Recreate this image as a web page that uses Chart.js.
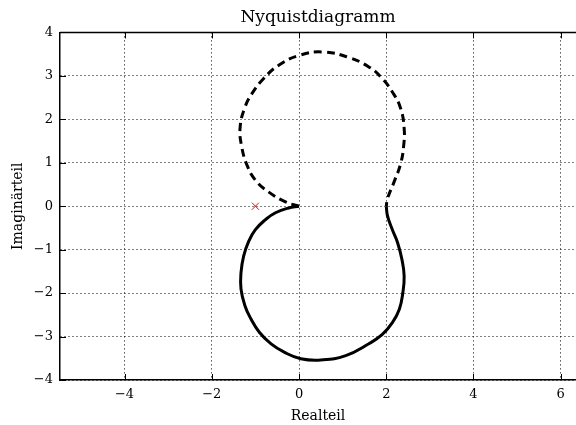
<!DOCTYPE html>
<html>
<head>
<meta charset="utf-8">
<script src="https://cdn.jsdelivr.net/npm/chart.js@4.4.1/dist/chart.umd.min.js"></script>
<style>
  html, body { margin: 0; padding: 0; background: #fff; }
  #wrap { width: 576px; height: 425px; }
</style>
</head>
<body>
<div id="wrap"><canvas id="nyquistChart"></canvas></div>
<script>
// Ortskurve (omega > 0, durchgezogen)
var realSolid = [0, -0.24, -0.54, -0.77, -1.0, -1.15, -1.27, -1.33, -1.33, -1.24, -1.11, -0.91, -0.64, -0.34, 0.04, 0.5, 1.07, 1.61, 1.91, 2.14, 2.3, 2.38, 2.41, 2.36, 2.26, 2.14, 2.03, 2.0];
var imagSolid = [0, -0.04, -0.15, -0.31, -0.54, -0.8, -1.15, -1.53, -1.91, -2.29, -2.58, -2.9, -3.17, -3.36, -3.51, -3.54, -3.44, -3.16, -2.95, -2.68, -2.37, -1.99, -1.61, -1.23, -0.84, -0.54, -0.23, 0];

// gespiegelter Ast (omega < 0, gestrichelt)
var realDashed = [0, -0.31, -0.7, -1.0, -1.19, -1.32, -1.35, -1.25, -1.08, -0.81, -0.47, 0, 0.55, 1.15, 1.61, 1.88, 2.14, 2.33, 2.41, 2.4, 2.33, 2.18, 2.03, 2.0];
var imagDashed = [0, 0.1, 0.33, 0.6, 0.94, 1.4, 1.82, 2.25, 2.59, 2.94, 3.24, 3.47, 3.55, 3.42, 3.2, 2.97, 2.63, 2.25, 1.79, 1.4, 0.98, 0.56, 0.18, 0];

// kritischer Punkt
var criticalPoint = [-1, 0];

var xTicks = [-4, -2, 0, 2, 4, 6];
var yTicks = [-4, -3, -2, -1, 0, 1, 2, 3, 4];

function toPoints(xs, ys) {
    return xs.map(function (v, i) { return { x: v, y: ys[i] }; });
}

function minusSign(value) {
    return String(value).replace('-', '\u2212');
}

var serif = "'DejaVu Serif', serif";

// Innenliegende Striche und oberer Rahmen (wie matplotlib)
var innerTicks = {
    id: 'innerTicks',
    afterDatasetsDraw: function (chart) {
        var ctx = chart.ctx;
        var a = chart.chartArea;
        var xs = chart.scales.x;
        var ys = chart.scales.y;
        ctx.save();
        ctx.strokeStyle = '#000';
        ctx.lineWidth = 1;
        ctx.beginPath();
        xTicks.forEach(function (t) {
            var px = Math.round(xs.getPixelForValue(t)) + 0.5;
            ctx.moveTo(px, a.bottom);
            ctx.lineTo(px, a.bottom - 6);
            ctx.moveTo(px, a.top);
            ctx.lineTo(px, a.top + 6);
        });
        yTicks.forEach(function (t) {
            var py = Math.round(ys.getPixelForValue(t)) + 0.5;
            ctx.moveTo(a.left, py);
            ctx.lineTo(a.left + 6, py);
        });
        ctx.stroke();
        ctx.lineWidth = 1.5;
        ctx.beginPath();
        ctx.moveTo(a.left, a.top);
        ctx.lineTo(a.right, a.top);
        ctx.stroke();
        ctx.restore();
    }
};

var nyquistCanvas = document.getElementById("nyquistChart");

var nyquistData = {
    datasets: [{
        label: 'omega > 0',
        data: toPoints(realSolid, imagSolid),
        showLine: true,
        tension: 0.45,
        borderColor: '#000',
        borderWidth: 3,
        pointRadius: 0,
        fill: false
    }, {
        label: 'omega < 0',
        data: toPoints(realDashed, imagDashed),
        showLine: true,
        tension: 0.45,
        borderColor: '#000',
        borderWidth: 3,
        borderDash: [8, 5],
        pointRadius: 0,
        fill: false
    }, {
        label: '-1',
        data: [{ x: criticalPoint[0], y: criticalPoint[1] }],
        showLine: false,
        pointStyle: 'crossRot',
        pointRadius: 5,
        borderColor: 'red',
        borderWidth: 1
    }]
};

var chartOptions = {
    responsive: true,
    maintainAspectRatio: false,
    animation: false,
    layout: { padding: 0, autoPadding: false },
    plugins: {
        legend: { display: false },
        tooltip: { enabled: false },
        title: {
            display: true,
            text: 'Nyquistdiagramm',
            color: '#000',
            fullSize: false,
            font: { family: serif, size: 17, weight: 'normal', lineHeight: 1.2 },
            padding: { top: 7, bottom: 5 }
        }
    },
    scales: {
        x: {
            type: 'linear',
            min: -5.48,
            max: 6.35,
            afterFit: function (scale) {
                scale.height = 45;
                scale.paddingLeft = 0;
                scale.paddingRight = 0;
            },
            afterBuildTicks: function (scale) {
                scale.ticks = xTicks.map(function (v) { return { value: v }; });
            },
            ticks: {
                includeBounds: false,
                padding: 7,
                color: '#000',
                font: { family: serif, size: 13 },
                callback: minusSign
            },
            grid: { color: '#000', lineWidth: 1, drawTicks: false },
            border: { color: '#000', width: 1.5, dash: [1, 3] },
            title: {
                display: true,
                text: 'Realteil',
                color: '#000',
                font: { family: serif, size: 14 },
                padding: { top: 0, bottom: 0 }
            }
        },
        y: {
            type: 'linear',
            min: -4,
            max: 4,
            afterFit: function (scale) {
                scale.width = 60;
                scale.paddingTop = 0;
                scale.paddingBottom = 0;
            },
            afterBuildTicks: function (scale) {
                scale.ticks = yTicks.map(function (v) { return { value: v }; });
            },
            ticks: {
                padding: 7,
                color: '#000',
                font: { family: serif, size: 13 },
                callback: minusSign
            },
            grid: { color: '#000', lineWidth: 1, drawTicks: false },
            border: { color: '#000', width: 1.5, dash: [1, 3] },
            title: {
                display: true,
                text: 'Imaginärteil',
                color: '#000',
                font: { family: serif, size: 14 },
                padding: { top: 10, bottom: 0 }
            }
        }
    }
};

var nyquistChart = new Chart(nyquistCanvas, {
    type: 'scatter',
    data: nyquistData,
    options: chartOptions,
    plugins: [innerTicks]
});
</script>
</body>
</html>
